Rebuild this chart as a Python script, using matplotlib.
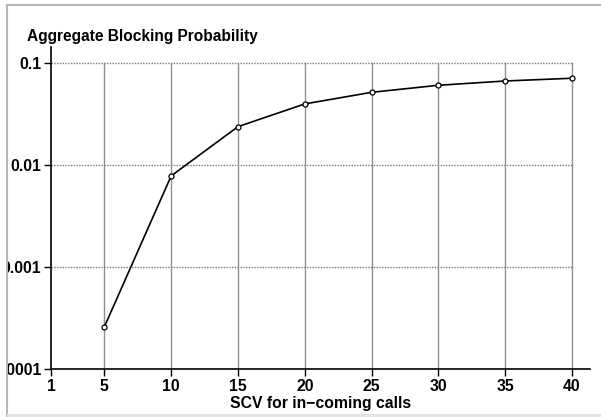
import matplotlib.pyplot as plt
from matplotlib.patches import Rectangle
from matplotlib.lines import Line2D

plt.rcParams['font.family'] = ['Liberation Sans', 'DejaVu Sans']

# data
scv = [5, 10, 15, 20, 25, 30, 35, 40]
blocking = [2.62e-4, 7.9e-3, 0.0240, 0.0401, 0.0521, 0.0611, 0.0673, 0.0716]
x_ticks = [1, 5, 10, 15, 20, 25, 30, 35, 40]
y_ticks = [0.0001, 0.001, 0.01, 0.1]
y_labels = ['0.0001', '0.001', '0.01', '0.1']

fig = plt.figure(figsize=(6.01, 4.17), dpi=100)
ax = fig.add_axes([51 / 601, 1 - 369.3 / 417, (590 - 51) / 601, (369.3 - 46.7) / 417])

ax.set_yscale('log')
ax.set_xlim(1, 41.35)
ax.set_ylim(0.0001, 0.146)

# grid only inside the data box
for xv in x_ticks[1:]:
    ax.plot([xv, xv], [0.0001, 0.1], color='#909090', lw=1.0, zorder=1)
for yv in y_ticks[1:]:
    ax.plot([1, 40], [yv, yv], color='#7a7a7a', lw=1.0, dashes=(1, 1), zorder=1)

ax.plot(scv, blocking, color='black', lw=1.2, marker='o', markersize=3.6,
        markerfacecolor='white', markeredgecolor='black', markeredgewidth=0.9, zorder=3)

ax.spines['top'].set_visible(False)
ax.spines['right'].set_visible(False)
ax.spines['left'].set_linewidth(1.2)
ax.spines['bottom'].set_linewidth(1.2)

ax.set_xticks(x_ticks)
ax.set_xticklabels([str(v) for v in x_ticks], fontweight='bold', fontsize=11.3)
ax.set_yticks(y_ticks)
ax.set_yticklabels(y_labels, fontweight='bold', fontsize=11.3)
ax.yaxis.set_minor_locator(plt.NullLocator())
ax.tick_params(direction='out', length=5, width=1, pad=2)

ax.set_xlabel('SCV for in\u2212coming calls', fontweight='bold', fontsize=11.3, labelpad=1.5)
fig.text(27 / 601, 1 - 37 / 417, 'Aggregate Blocking Probability', fontweight='bold',
         fontsize=11.2, ha='left', va='center')

# page frame, clipping the long tick labels on the left
fig.add_artist(Rectangle((0, 0), 6.5 / 601, 1, transform=fig.transFigure,
                         facecolor='white', edgecolor='none', zorder=10))
fig.add_artist(Line2D([6.5 / 601, 6.5 / 601], [0, 1 - 4.5 / 417], transform=fig.transFigure,
                      color='#b8b8b8', lw=1.5, zorder=11))
fig.add_artist(Line2D([6.5 / 601, 1], [1 - 4.5 / 417, 1 - 4.5 / 417], transform=fig.transFigure,
                      color='#b8b8b8', lw=1.5, zorder=11))
fig.add_artist(Rectangle((6.5 / 601, 0), 1, 3.5 / 417, transform=fig.transFigure,
                         facecolor='#e4e4e4', edgecolor='none', zorder=11))

fig.savefig('out.png', dpi=100)
